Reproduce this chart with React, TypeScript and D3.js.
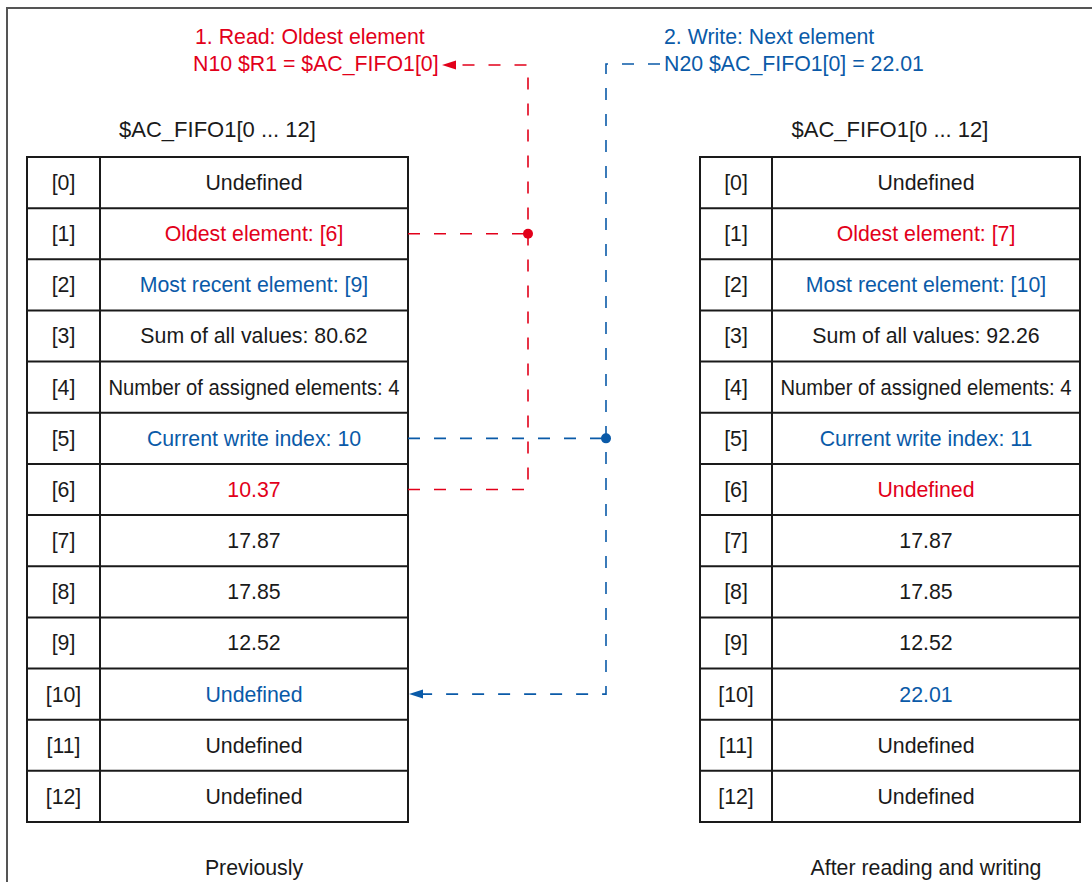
import React from "react";
import * as d3 from "d3";

const indexLabels = ["[0]", "[1]", "[2]", "[3]", "[4]", "[5]", "[6]", "[7]", "[8]", "[9]", "[10]", "[11]", "[12]"];
const previousValues = [
  "Undefined",
  "Oldest element: [6]",
  "Most recent element: [9]",
  "Sum of all values: 80.62",
  "Number of assigned elements: 4",
  "Current write index: 10",
  "10.37",
  "17.87",
  "17.85",
  "12.52",
  "Undefined",
  "Undefined",
  "Undefined",
];
const afterValues = [
  "Undefined",
  "Oldest element: [7]",
  "Most recent element: [10]",
  "Sum of all values: 92.26",
  "Number of assigned elements: 4",
  "Current write index: 11",
  "Undefined",
  "17.87",
  "17.85",
  "12.52",
  "22.01",
  "Undefined",
  "Undefined",
];
const rowRoles = ["plain", "read", "write", "plain", "plain", "write", "read", "plain", "plain", "plain", "write", "plain", "plain"];
const arrayTitle = "$AC_FIFO1[0 ... 12]";
const readTitle = ["1. Read: Oldest element", "N10 $R1 = $AC_FIFO1[0]"];
const writeTitle = ["2. Write: Next element", "N20 $AC_FIFO1[0] = 22.01"];
const captions = ["Previously", "After reading and writing"];

const W = 1092;
const H = 882;
const RED = "#e2001a";
const BLUE = "#0a5aa8";
const INK = "#1a1a1a";
const FONT = "'Liberation Sans', Arial, Helvetica, sans-serif";
const FS = 21.3;

const roleColor = (r: string) => (r === "read" ? RED : r === "write" ? BLUE : INK);

const y = d3.scaleBand<string>().domain(indexLabels).range([157, 822]).padding(0);
const yc = (lbl: string) => (y(lbl) as number) + y.bandwidth() / 2;

type TableProps = { x0: number; xDiv: number; x1: number; values: string[]; caption: string };

function Table({ x0, xDiv, x1, values, caption }: TableProps) {
  const top = y.range()[0];
  const bottom = y.range()[1];
  return (
    <g>
      <text x={(x0 + x1) / 2} y={137} textAnchor="middle" fontSize={22} fill={INK}>
        {arrayTitle}
      </text>
      {indexLabels.map((lbl, i) => {
        const long = values[i].length > 26;
        return (
          <g key={lbl}>
            <text x={(x0 + xDiv) / 2} y={yc(lbl)} dy="0.35em" textAnchor="middle" fontSize={FS} fill={INK}>
              {lbl}
            </text>
            <text
              x={(xDiv + x1) / 2}
              y={yc(lbl)}
              dy="0.35em"
              textAnchor="middle"
              fontSize={FS}
              fill={roleColor(rowRoles[i])}
              {...(long ? { textLength: 291, lengthAdjust: "spacingAndGlyphs" } : {})}
            >
              {values[i]}
            </text>
            {i > 0 && <line x1={x0} x2={x1} y1={y(lbl)} y2={y(lbl)} stroke={INK} strokeWidth={2} />}
          </g>
        );
      })}
      <rect x={x0} y={top} width={x1 - x0} height={bottom - top} fill="none" stroke={INK} strokeWidth={2} />
      <line x1={xDiv} x2={xDiv} y1={top} y2={bottom} stroke={INK} strokeWidth={2} />
      <text x={(xDiv + x1) / 2} y={875} textAnchor="middle" fontSize={FS} fill={INK}>
        {caption}
      </text>
    </g>
  );
}

export default function App() {
  const L = { x0: 27, xDiv: 100, x1: 408 };
  const R = { x0: 700, xDiv: 772, x1: 1080 };
  const redX = 528;
  const blueX = 606;
  const redTopY = 65;
  const blueTopY = 64;
  const dash = "12 14";
  const readPath = `M${L.x1},${yc("[6]")}H${redX}V${redTopY}H${454}`;
  const readBranch = `M${L.x1},${yc("[1]")}H${redX}`;
  const writePath = `M${660},${blueTopY}H${blueX}V${yc("[10]")}H${420}`;
  const writeBranch = `M${L.x1},${yc("[5]")}H${blueX}`;
  return (
    <svg
      width={W}
      height={H}
      style={{ position: "absolute", left: 0, top: 0, display: "block", background: "#fff" }}
      fontFamily={FONT}
    >
      <rect x={0} y={0} width={W} height={H} fill="#fff" />
      <rect x={7} y={8} width={1200} height={1000} fill="none" stroke="#555" strokeWidth={2} />

      <text x={195} y={44} fontSize={FS} fill={RED}>{readTitle[0]}</text>
      <text x={193} y={71} fontSize={FS} fill={RED}>{readTitle[1]}</text>
      <text x={664} y={44} fontSize={FS} fill={BLUE}>{writeTitle[0]}</text>
      <text x={664} y={71} fontSize={FS} fill={BLUE}>{writeTitle[1]}</text>

      <Table {...L} values={previousValues} caption={captions[0]} />
      <Table {...R} values={afterValues} caption={captions[1]} />

      <path d={readPath} fill="none" stroke={RED} strokeWidth={1.6} strokeDasharray={dash} />
      <path d={readBranch} fill="none" stroke={RED} strokeWidth={1.6} strokeDasharray={dash} />
      <circle cx={redX} cy={yc("[1]")} r={5} fill={RED} />
      <path d={`M${442},${redTopY}L${456},${redTopY - 4.5}L${456},${redTopY + 4.5}Z`} fill={RED} />

      <path d={writePath} fill="none" stroke={BLUE} strokeWidth={1.6} strokeDasharray={dash} />
      <path d={writeBranch} fill="none" stroke={BLUE} strokeWidth={1.6} strokeDasharray={dash} />
      <circle cx={blueX} cy={yc("[5]")} r={5} fill={BLUE} />
      <path d={`M${409},${yc("[10]")}L${423},${yc("[10]") - 4.5}L${423},${yc("[10]") + 4.5}Z`} fill={BLUE} />
    </svg>
  );
}
